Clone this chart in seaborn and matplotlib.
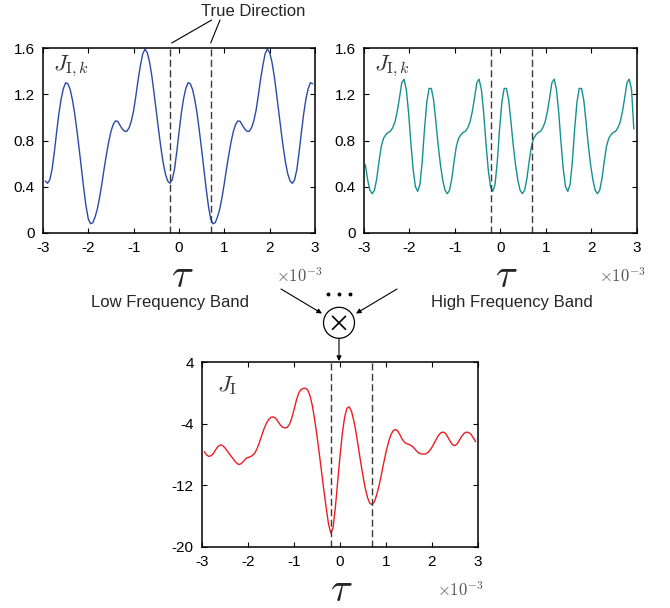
import numpy as np
import pandas as pd
import matplotlib
matplotlib.use("Agg")
import matplotlib.pyplot as plt
import seaborn as sns
from matplotlib.patches import Ellipse, FancyArrowPatch
from matplotlib.lines import Line2D

sns.set_style("ticks")
plt.rcParams['font.family'] = ['Liberation Sans', 'DejaVu Sans']
plt.rcParams['mathtext.fontset'] = 'cm'

# ---------------- data (tau in units of 1e-3) ----------------
tau_low = np.round(np.linspace(-2.95, 2.95, 119), 2)
J_low = [0.45, 0.43, 0.46, 0.55, 0.70, 0.87, 1.03, 1.16, 1.25, 1.30,
         1.29, 1.24, 1.15, 1.03, 0.88, 0.72, 0.55, 0.38, 0.23, 0.12,
         0.08, 0.09, 0.14, 0.21, 0.31, 0.43, 0.56, 0.68, 0.79, 0.88,
         0.94, 0.97, 0.965, 0.93, 0.90, 0.88, 0.88, 0.91, 0.97, 1.06,
         1.19, 1.33, 1.45, 1.55, 1.59, 1.56, 1.48, 1.36, 1.21, 1.05,
         0.89, 0.74, 0.61, 0.51, 0.45, 0.43, 0.46, 0.55, 0.70, 0.87,
         1.03, 1.16, 1.25, 1.30, 1.29, 1.24, 1.15, 1.03, 0.88, 0.72,
         0.55, 0.38, 0.23, 0.12,
         0.08, 0.09, 0.14, 0.21, 0.31, 0.43, 0.56, 0.68, 0.79, 0.88,
         0.94, 0.97, 0.965, 0.93, 0.90, 0.88, 0.88, 0.91, 0.97, 1.06,
         1.19, 1.33, 1.45, 1.55, 1.59, 1.56, 1.48, 1.36, 1.21, 1.05,
         0.89, 0.74, 0.61, 0.51, 0.45, 0.43, 0.46, 0.55, 0.70, 0.87,
         1.03, 1.16, 1.25, 1.30, 1.29]

tau_high = np.round(np.linspace(-2.97, 2.93, 119), 2)
J_high = [0.59, 0.46, 0.37,
          0.34, 0.37, 0.47, 0.62, 0.75, 0.82, 0.85, 0.87, 0.88, 0.91, 0.96,
          1.05, 1.17, 1.30, 1.33, 1.24, 1.04, 0.78, 0.55, 0.40, 0.36, 0.42,
          0.62, 0.90, 1.13, 1.25, 1.25, 1.15, 0.96, 0.76, 0.59, 0.46, 0.37,
          0.34, 0.37, 0.47, 0.62, 0.75, 0.82, 0.85, 0.87, 0.88, 0.91, 0.96,
          1.05, 1.17, 1.30, 1.33, 1.24, 1.04, 0.78, 0.55, 0.40, 0.36, 0.42,
          0.62, 0.90, 1.13, 1.25, 1.25, 1.15, 0.96, 0.76, 0.59, 0.46, 0.37,
          0.34, 0.37, 0.47, 0.62, 0.75, 0.82, 0.85, 0.87, 0.88, 0.91, 0.96,
          1.05, 1.17, 1.30, 1.33, 1.24, 1.04, 0.78, 0.55, 0.40, 0.36, 0.42,
          0.62, 0.90, 1.13, 1.25, 1.25, 1.15, 0.96, 0.76, 0.59, 0.46, 0.37,
          0.34, 0.37, 0.47, 0.62, 0.75, 0.82, 0.85, 0.87, 0.88, 0.91, 0.96,
          1.05, 1.17, 1.30, 1.33, 1.24, 0.90]

tau_comb = np.round(np.linspace(-2.95, 2.95, 119), 2)
J_comb = [-7.63, -8.05, -8.25, -8.15, -7.85, -7.35, -6.95, -6.75, -6.85, -7.15,
          -7.55, -7.95, -8.35, -8.75, -9.10, -9.30, -9.20, -8.90, -8.55, -8.38,
          -8.30, -8.10, -7.80, -7.20, -6.40, -5.50, -4.65, -3.95, -3.45, -3.17,
          -3.12, -3.30, -3.70, -4.15, -4.45, -4.55, -4.50, -4.10, -3.30, -2.20,
          -1.00, -0.05, 0.40, 0.58, 0.60, 0.35, -0.40, -1.70, -3.50, -5.60,
          -7.90, -10.30, -12.70, -14.90, -17.00, -18.20, -17.50, -14.80, -11.50, -8.20,
          -5.30, -3.20, -2.00, -1.82, -2.40, -3.60, -5.20, -7.10, -9.00, -10.80,
          -12.40, -13.60, -14.35, -14.50, -14.10, -13.20, -12.00, -10.60, -9.10, -7.70,
          -6.50, -5.55, -4.95, -4.75, -4.90, -5.40, -6.00, -6.40, -6.60, -6.70,
          -6.85, -7.10, -7.45, -7.75, -7.90, -7.95, -7.93, -7.80, -7.50, -7.05,
          -6.50, -5.95, -5.45, -5.15, -5.10, -5.30, -5.80, -6.35, -6.75, -6.84,
          -6.60, -6.10, -5.60, -5.25, -5.10, -5.15, -5.40, -5.85, -6.35]

true_dirs = [-0.2, 0.7]
x_ticks = [-3, -2, -1, 0, 1, 2, 3]
x_ticklabels = ['-3', '-2', '-1', '0', '1', '2', '3']
yk_ticks = [0, 0.4, 0.8, 1.2, 1.6]
yk_labels = ['0', '0.4', '0.8', '1.2', '1.6']
yc_ticks = [-20, -12, -4, 4]
yc_labels = ['-20', '-12', '-4', '4']

band_labels = ['Low Frequency Band', 'High Frequency Band']
direction_label = 'True Direction'

# ---------------- figure ----------------
W, H = 670, 608
fig = plt.figure(figsize=(W / 100, H / 100), dpi=100)


def fx(x):
    return x / W


def fy(y):
    return 1 - y / H


def make_axes(l, t, r, b):
    return fig.add_axes([fx(l), fy(b), (r - l) / W, (b - t) / H])


ax_low = make_axes(43, 48, 315, 233)
ax_high = make_axes(364, 48, 637, 233)
ax_comb = make_axes(202, 362, 478, 547)

sns.lineplot(x=tau_low, y=J_low, ax=ax_low, color='#2a4aa8', lw=1.0, sort=False)
sns.lineplot(x=tau_high, y=J_high, ax=ax_high, color='#14918f', lw=1.0, sort=False)
sns.lineplot(x=tau_comb, y=J_comb, ax=ax_comb, color='#ec1c24', lw=1.0, sort=False)


def style(ax, yt, yl, ylim, jlabel, jx, jy, xlab_x, mult_x):
    ax.set_xlim(-3, 3)
    ax.set_ylim(*ylim)
    ax.set_xticks(x_ticks)
    ax.set_xticklabels(x_ticklabels)
    ax.set_yticks(yt)
    ax.set_yticklabels(yl)
    ax.set_xlabel('')
    ax.set_ylabel('')
    ax.tick_params(direction='in', top=True, right=True, length=3.5,
                   width=0.8, labelsize=11, pad=6, colors='black')
    for s in ax.spines.values():
        s.set_visible(True)
        s.set_linewidth(1.1)
        s.set_color('black')
    for d in true_dirs:
        ax.axvline(d, color='#3a3a3a', lw=1.0, ls=(0, (5, 2.5)))
    ax.text(jx, jy, jlabel, transform=ax.transAxes, fontsize=16.5,
            color='#333333', ha='left', va='top')
    ax.text(xlab_x, -0.23, r'$\tau$', transform=ax.transAxes, fontsize=29,
            ha='center', va='center')
    ax.text(mult_x, -0.18, r'$\times10^{-3}$', transform=ax.transAxes,
            fontsize=12, color='#555555', ha='right', va='top')


style(ax_low, yk_ticks, yk_labels, (0, 1.6), r'$J_{\mathrm{I},k}$', 0.035, 0.97, 0.514, 1.03)
style(ax_high, yk_ticks, yk_labels, (0, 1.6), r'$J_{\mathrm{I},k}$', 0.035, 0.97, 0.52, 1.03)
style(ax_comb, yc_ticks, yc_labels, (-20, 4), r'$J_{\mathrm{I}}$', 0.055, 0.935, 0.505, 1.02)

# ---------------- annotations ----------------
fig.text(fx(253), fy(11), direction_label, fontsize=12, ha='center', va='center')
for (x0, y0, x1, y1) in [(211.7, 20, 171.7, 43), (220, 20, 210.7, 43)]:
    fig.add_artist(Line2D([fx(x0), fx(x1)], [fy(y0), fy(y1)], color='black',
                          lw=0.8, transform=fig.transFigure))

fig.text(fx(170), fy(302), band_labels[0], fontsize=12, ha='center', va='center')
fig.text(fx(512), fy(302), band_labels[1], fontsize=12, ha='center', va='center')

cx, cy, r = 339, 322.8, 15.5
fig.add_artist(Ellipse((fx(cx), fy(cy)), 2 * r / W, 2 * r / H, fill=False,
                       lw=0.9, color='black', transform=fig.transFigure))
d = 6.5
for s in (1, -1):
    fig.add_artist(Line2D([fx(cx - d), fx(cx + d)], [fy(cy - s * d), fy(cy + s * d)],
                          color='black', lw=1.2, transform=fig.transFigure))

fig.add_artist(Line2D([fx(328), fx(339), fx(350)], [fy(293.5)] * 3, ls='none',
                      marker='o', ms=1.8, color='black', transform=fig.transFigure))

for (x0, y0, x1, y1) in [(281, 289, 322, 313.5), (397, 289, 356, 313.5), (339, 338.5, 339, 361)]:
    fig.add_artist(FancyArrowPatch((fx(x0), fy(y0)), (fx(x1), fy(y1)),
                                   transform=fig.transFigure, arrowstyle='-|>',
                                   mutation_scale=7, lw=0.8, color='black',
                                   shrinkA=0, shrinkB=0))

fig.savefig('out.png', dpi=100)
